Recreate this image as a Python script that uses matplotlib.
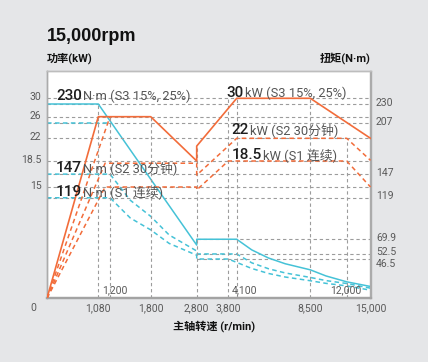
import numpy as np
import matplotlib
matplotlib.use("Agg")
import matplotlib.pyplot as plt
from matplotlib.transforms import ScaledTranslation, blended_transform_factory

# ---------------- data ----------------
rpm_ticks_bottom = [1080, 1800, 2800, 3800, 8500, 15000]
rpm_labels_bottom = ["1,080", "1,800", "2,800", "3,800", "8,500", "15,000"]
rpm_ticks_inner = [1200, 4100, 12000]
rpm_labels_inner = ["1,200", "4,100", "12,000"]
power_ticks = [15, 18.5, 22, 26, 30]
power_labels = ["15", "18.5", "22", "26", "30"]
torque_ticks = [46.5, 52.5, 69.9, 119, 147, 207, 230]
torque_labels = ["46.5", "52.5", "69.9", "119", "147", "207", "230"]

# power curves (kW)
p_s3_rpm = [0, 1080, 1800, 2800, 2800, 4100, 8500, 15000]
p_s3_kw = [0, 26, 26, 18.5, 20.8, 30, 30, 22]
p_s3b_rpm = [0, 1200]
p_s3b_kw = [0, 26]
p_s2_rpm = [0, 1150, 2800, 2800, 4100, 12000, 15000]
p_s2_kw = [0, 18.2, 18.2, 16.6, 22, 22, 18.6]
p_s1_rpm = [0, 1150, 2800, 2800, 3800, 12000, 15000]
p_s1_kw = [0, 15, 15, 14.6, 18.5, 18.5, 15]

# torque curves (N·m)
t_s3_rpm = [0, 1080, 1800, 2800, 2800, 4100, 5000, 6000, 7000, 8500, 10000, 12000, 15000]
t_s3_nm = [230, 230, 141, 63, 69.9, 69.9, 57.3, 47.7, 40.9, 33.7, 26.5, 19.5, 14]
t_s3b_rpm = [0, 1200]
t_s3b_nm = [207, 207]
t_s2_rpm = [0, 1200, 1500, 1800, 2200, 2800, 2800, 4100, 5000, 6000, 7000, 8500, 10000, 12000, 15000]
t_s2_nm = [147, 147, 116, 97, 75, 56, 52.5, 52.5, 42, 35, 30, 24.7, 21, 17.5, 12]
t_s1_rpm = [0, 1200, 1500, 1800, 2200, 2800, 2800, 3800, 5000, 6000, 7000, 8500, 10000, 12000, 15000]
t_s1_nm = [119, 119, 95, 81, 65, 51, 46.5, 46.5, 35.3, 29.4, 25.2, 20.8, 17.7, 14.7, 9.6]

# annotations: (number, rest, x axes-frac, baseline axes-frac)
notes = [
    ("230", "N·m (S3 15%, 25%)", 0.028, 0.871),
    ("147", "N·m (S2 30分钟)", 0.028, 0.557),
    ("119", "N·m (S1 连续)", 0.028, 0.449),
    ("30", "kW (S3 15%, 25%)", 0.556, 0.886),
    ("22", "kW (S2 30分钟)", 0.571, 0.722),
    ("18.5", "kW (S1 连续)", 0.571, 0.614),
]

# ---------------- layout (scales) ----------------
x_knots = [0, 1080, 1200, 1800, 2800, 3800, 4100, 8500, 12000, 15000]
x_pos = [0, 51.3, 63, 103.7, 149.7, 181.3, 189.7, 263.3, 299.7, 323.5]
p_knots = [0, 15, 18.5, 22, 26, 30, 36]
p_pos = [0, 111.3, 137.3, 160, 181.6, 200, 227.6]


def make_pw(xk, yk):
    xk = np.asarray(xk, float)
    yk = np.asarray(yk, float)

    def f(v):
        v = np.asarray(v, float)
        out = np.interp(v, xk, yk)
        lo_s = (yk[1] - yk[0]) / (xk[1] - xk[0])
        hi_s = (yk[-1] - yk[-2]) / (xk[-1] - xk[-2])
        out = np.where(v < xk[0], yk[0] + (v - xk[0]) * lo_s, out)
        out = np.where(v > xk[-1], yk[-1] + (v - xk[-1]) * hi_s, out)
        return out
    return f


ORANGE = "#F26C3A"
CYAN = "#45C2D7"
GRID = "#9C9C9C"
BG = "#E5E6E8"
TICKC = "#5A5A5A"
LAT = ["Roboto", "Noto Sans CJK SC", "DejaVu Sans"]

W, H = 428, 362
fig = plt.figure(figsize=(W / 100, H / 100), dpi=100, facecolor=BG)
L, R, T, B = 47, 370.5, 70.7, 298.3
ax = fig.add_axes([L / W, (H - B) / H, (R - L) / W, (B - T) / H])
ax.set_facecolor("white")
ax.set_xscale("function", functions=(make_pw(x_knots, x_pos), make_pw(x_pos, x_knots)))
ax.set_yscale("function", functions=(make_pw(p_knots, p_pos), make_pw(p_pos, p_knots)))
ax.set_xlim(0, 15000)
ax.set_ylim(0, 36)

ax2 = ax.twinx()
ax2.set_ylim(0, 230 * 227.6 / 194.3)

dash = (0, (3, 2.2))
gdash = (0, (3, 2.5))

# grid lines
ax.hlines(power_ticks, 0, 15000, colors=GRID, lw=0.8, linestyles=gdash, zorder=1)
ax2.hlines([230, 207, 147, 119], 0, 15000, colors=GRID, lw=0.8, linestyles=gdash, zorder=1)
ax2.hlines([69.9, 52.5, 46.5], 2800, 15000, colors=GRID, lw=0.8, linestyles=gdash, zorder=1)
ax2.vlines([1080], 0, 230, colors=GRID, lw=0.8, linestyles=gdash, zorder=1)
ax.vlines([1200, 1800], 0, 26, colors=GRID, lw=0.8, linestyles=gdash, zorder=1)
ax.vlines([2800], 0, 20.8, colors=GRID, lw=0.8, linestyles=gdash, zorder=1)
ax.vlines([3800, 4100, 8500], 0, 30, colors=GRID, lw=0.8, linestyles=gdash, zorder=1)
ax.vlines([12000], 0, 22, colors=GRID, lw=0.8, linestyles=gdash, zorder=1)

# torque curves
ax2.plot(t_s3_rpm, t_s3_nm, color=CYAN, lw=1.1, zorder=3)
ax2.plot(t_s3b_rpm, t_s3b_nm, color=CYAN, lw=1.1, ls=dash, zorder=3)
ax2.plot(t_s2_rpm, t_s2_nm, color=CYAN, lw=1.1, ls=dash, zorder=3)
ax2.plot(t_s1_rpm, t_s1_nm, color=CYAN, lw=1.1, ls=dash, zorder=3)

# power curves
ax.plot(p_s3_rpm, p_s3_kw, color=ORANGE, lw=1.2, zorder=4)
ax.plot(p_s3b_rpm, p_s3b_kw, color=ORANGE, lw=1.1, ls=dash, zorder=4)
ax.plot(p_s2_rpm, p_s2_kw, color=ORANGE, lw=1.1, ls=dash, zorder=4)
ax.plot(p_s1_rpm, p_s1_kw, color=ORANGE, lw=1.1, ls=dash, zorder=4)
ax.set_zorder(ax2.get_zorder() + 1)
ax.patch.set_visible(False)
ax2.patch.set_visible(True)
ax2.patch.set_facecolor("white")

# ticks
ax.set_xticks(rpm_ticks_bottom, rpm_labels_bottom)
ax.set_yticks(power_ticks, power_labels)
ax2.set_yticks(torque_ticks, torque_labels)
ax.minorticks_off()
ax.tick_params(axis="x", length=0, pad=3.5, labelsize=7.5, labelcolor=TICKC)
ax.tick_params(axis="y", length=0, pad=4, labelsize=7.5, labelcolor=TICKC)
ax2.tick_params(axis="y", length=0, pad=4, labelsize=7.5, labelcolor=TICKC)
for lab in ax.get_xticklabels() + ax.get_yticklabels() + ax2.get_yticklabels():
    lab.set_fontfamily(LAT)
for lab in ax.get_yticklabels():
    lab.set_transform(lab.get_transform() + ScaledTranslation(0, 2 / 100, fig.dpi_scale_trans))
for lab, v in zip(ax2.get_yticklabels(), torque_ticks):
    dy = -3.5 if v == 46.5 else 2.5
    lab.set_transform(lab.get_transform() + ScaledTranslation(0, dy / 100, fig.dpi_scale_trans))

# spines
for a in (ax, ax2):
    for s in a.spines.values():
        s.set_color("#ABABAB")
        s.set_linewidth(1.0)
    a.spines["top"].set_color("#BDBDBD")
    a.spines["bottom"].set_linewidth(1.6)
    a.spines["bottom"].set_color("#A3A3A3")

# inner tick labels and origin
bt = blended_transform_factory(ax.transData, ax.transAxes)
offs = [5, 8, -1]
for v, s, o in zip(rpm_ticks_inner, rpm_labels_inner, offs):
    ax.annotate(s, xy=(v, 0.034), xycoords=bt, xytext=(o * 0.72, 0), textcoords="offset points",
                ha="center", va="center", fontsize=7.5, color=TICKC, family=LAT, zorder=6)
fig.text(33.3 / W, 1 - 307.7 / H, "0", ha="center", va="center", fontsize=7.5,
         color=TICKC, family=LAT)

# titles
fig.text(47 / W, 1 - 36.5 / H, "15,000rpm", ha="left", va="center", fontsize=13,
         fontweight="bold", family=["Liberation Sans", "DejaVu Sans"], color="#111111")
fig.text(47 / W, 1 - 58 / H, "功率(kW)", ha="left", va="center", fontsize=8,
         fontweight="bold", family=LAT, color="#111111")
fig.text(370.5 / W, 1 - 58 / H, "扭矩(N·m)", ha="right", va="center", fontsize=8,
         fontweight="bold", family=LAT, color="#111111")
fig.text(213.7 / W, 1 - 326 / H, "主轴转速 (r/min)", ha="center", va="center", fontsize=8,
         fontweight="bold", family=LAT, color="#111111")

# annotations
fig.canvas.draw()
renderer = fig.canvas.get_renderer()
for num, rest, xf, yf in notes:
    t1 = ax.text(xf, yf, num, transform=ax.transAxes, ha="left", va="baseline",
                 fontsize=11, fontweight="medium", family=LAT, color="#1E1E1E", zorder=7)
    bb = t1.get_window_extent(renderer=renderer)
    ax.annotate(rest, xy=(xf, yf), xycoords="axes fraction",
                xytext=((bb.width + 0.8) * 72 / 100, 0), textcoords="offset points",
                ha="left", va="baseline", fontsize=9.3, family=LAT, color="#555555", zorder=7)

fig.savefig("out.png", dpi=100, facecolor=BG)
